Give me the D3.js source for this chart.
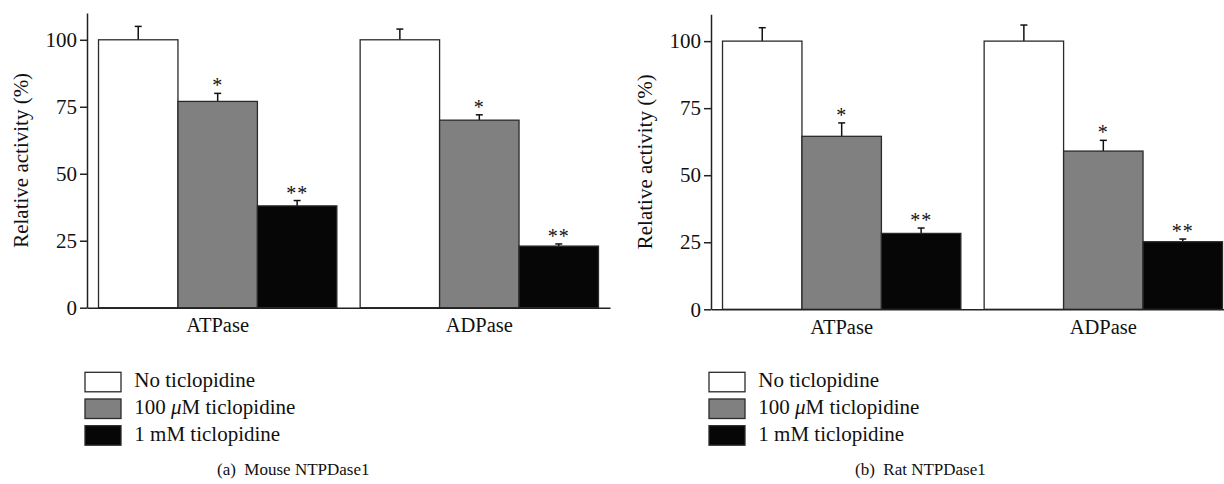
<!DOCTYPE html>
<html>
<head>
<meta charset="utf-8">
<script src="https://cdn.jsdelivr.net/npm/d3@7/dist/d3.min.js"></script>
<style>
	body { margin: 0; background: #fff; }
	text { font-family: "Liberation Serif", "DejaVu Serif", serif; fill: #111; }
</style>
</head>
<body>
<div id="chart"></div>
<script>
// Data
const groups = ['ATPase', 'ADPase'];
const series = ['No ticlopidine', '100 μM ticlopidine', '1 mM ticlopidine'];
const marks = ['', '*', '**'];
const yTicks = [0, 25, 50, 75, 100];

const mouseATPase = [100, 77, 38];
const mouseATPaseErr = [5, 3, 2];
const mouseADPase = [100, 70, 23];
const mouseADPaseErr = [4, 2, 0.8];

const ratATPase = [100, 64.5, 28.3];
const ratATPaseErr = [5, 5, 2];
const ratADPase = [100, 59, 25.2];
const ratADPaseErr = [6, 4, 1];

const fills = ['#ffffff', '#808080', '#060606'];

let width = 1224;
let height = 484;

let svg = d3.select('#chart')
	.append('svg')
	.attr('width', width)
	.attr('height', height);

function drawPanel(opts){
	let g = svg.append('g');

	let y = d3.scaleLinear()
		.domain([0, 110])
		.range([opts.y0, opts.yTop]);

	let x = d3.scaleBand()
		.domain(groups)
		.range([opts.x0, opts.x0 + 523])
		.paddingInner(0.089)
		.paddingOuter(0.044);

	let xs = d3.scaleBand()
		.domain(d3.range(series.length))
		.range([0, x.bandwidth()]);

	// bars
	let rows = [];
	groups.forEach(function(grp, gi){
		opts.values[gi].forEach(function(v, si){
			rows.push({group: grp, s: si, v: v, e: opts.errors[gi][si]});
		});
	});

	let bars = g.selectAll('g.bar')
		.data(rows)
		.enter()
		.append('g')
		.attr('class', 'bar');

	// error whiskers (upper only)
	bars.append('line')
		.attr('x1', d => x(d.group) + xs(d.s) + xs.bandwidth()/2)
		.attr('x2', d => x(d.group) + xs(d.s) + xs.bandwidth()/2)
		.attr('y1', d => y(d.v))
		.attr('y2', d => y(d.v + d.e))
		.attr('stroke', '#111')
		.attr('stroke-width', 1.5);

	bars.append('line')
		.attr('x1', d => x(d.group) + xs(d.s) + xs.bandwidth()/2 - 3.5)
		.attr('x2', d => x(d.group) + xs(d.s) + xs.bandwidth()/2 + 3.5)
		.attr('y1', d => y(d.v + d.e))
		.attr('y2', d => y(d.v + d.e))
		.attr('stroke', '#111')
		.attr('stroke-width', 1.5);

	bars.append('rect')
		.attr('x', d => x(d.group) + xs(d.s))
		.attr('y', d => y(d.v))
		.attr('width', xs.bandwidth())
		.attr('height', d => y(0) - y(d.v))
		.attr('fill', d => fills[d.s])
		.attr('stroke', '#2a2a2a')
		.attr('stroke-width', 1.3);

	bars.append('text')
		.attr('text-anchor', 'middle')
		.attr('x', d => x(d.group) + xs(d.s) + xs.bandwidth()/2)
		.attr('y', d => y(d.v + d.e) - 1)
		.attr('font-size', 20)
		.attr('letter-spacing', 1)
		.text(d => marks[d.s]);

	// axes
	let yAxis = g.append('g')
		.attr('transform', 'translate(' + opts.x0 + ',0)')
		.call(d3.axisLeft(y).tickValues(yTicks).tickSize(7).tickSizeOuter(0).tickPadding(3));
	yAxis.selectAll('text').attr('font-size', 21).attr('font-family', '"Liberation Serif", serif');
	yAxis.selectAll('path, line').attr('stroke', '#222').attr('stroke-width', 1.5);

	let xAxis = g.append('g')
		.attr('transform', 'translate(0,' + opts.y0 + ')')
		.call(d3.axisBottom(x).tickSize(0).tickSizeOuter(0).tickPadding(10));
	xAxis.select('path').attr('stroke', '#222').attr('stroke-width', 1.5);
	xAxis.selectAll('text').attr('font-size', 20.5).attr('font-family', '"Liberation Serif", serif');

	g.append('text')
		.attr('transform', 'translate(' + (opts.x0 - 59.5) + ',' + (opts.y0 + opts.yTop)/2 + ') rotate(-90)')
		.attr('text-anchor', 'middle')
		.attr('font-size', 21)
		.text('Relative activity (%)');

	// legend
	let leg = g.selectAll('g.legend')
		.data(series)
		.enter()
		.append('g')
		.attr('class', 'legend')
		.attr('transform', (d, i) => 'translate(' + (opts.x0 - 2) + ',' + (372.3 + i*26.7) + ')');

	leg.append('rect')
		.attr('width', 36)
		.attr('height', 19.5)
		.attr('fill', (d, i) => fills[i])
		.attr('stroke', '#2a2a2a')
		.attr('stroke-width', 1.3);

	leg.append('text')
		.attr('x', 49.3)
		.attr('y', 15)
		.attr('font-size', 21)
		.each(function(d){
			let t = d3.select(this);
			if(d.indexOf('μ') >= 0){
				let parts = d.split('μ');
				t.append('tspan').text(parts[0]);
				t.append('tspan').attr('font-style', 'italic').text('μ');
				t.append('tspan').text(parts[1]);
			} else {
				t.text(d);
			}
		});

	g.append('text')
		.attr('x', opts.capX)
		.attr('y', 475)
		.attr('font-size', 17)
		.attr('xml:space', 'preserve')
		.style('white-space', 'pre')
		.text(opts.caption);
}

drawPanel({
	x0: 87, y0: 307.7, yTop: 13,
	values: [mouseATPase, mouseADPase],
	errors: [mouseATPaseErr, mouseADPaseErr],
	caption: '(a)  Mouse NTPDase1', capX: 217
});

drawPanel({
	x0: 711, y0: 309.3, yTop: 14.3,
	values: [ratATPase, ratADPase],
	errors: [ratATPaseErr, ratADPaseErr],
	caption: '(b)  Rat NTPDase1', capX: 855
});
</script>
</body>
</html>
